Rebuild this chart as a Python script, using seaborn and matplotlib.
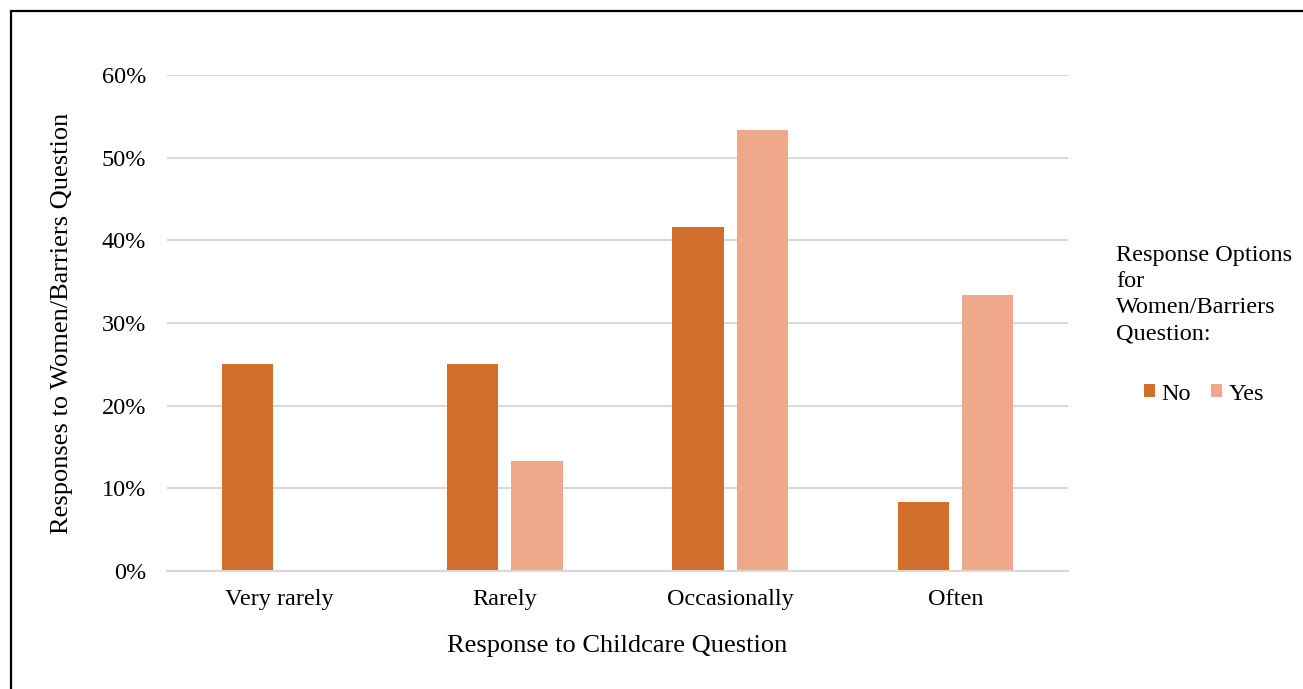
import matplotlib
matplotlib.use("Agg")
import matplotlib.pyplot as plt
import matplotlib.patches as mpatches
from matplotlib.ticker import PercentFormatter
import pandas as pd
import seaborn as sns

categories = ["Very rarely", "Rarely", "Occasionally", "Often"]
series_names = ["No", "Yes"]
no_values = [25.0, 25.0, 41.67, 8.33]
yes_values = [0.0, 13.33, 53.33, 33.33]
y_ticks = [0, 10, 20, 30, 40, 50, 60]
colors = {"No": "#D26E2B", "Yes": "#F0A88A"}

df = pd.DataFrame({
    "category": categories * 2,
    "answer": ["No"] * len(categories) + ["Yes"] * len(categories),
    "value": no_values + yes_values,
})

sns.set_theme(style="white")
plt.rcParams["font.family"] = ["Liberation Serif", "DejaVu Serif"]
plt.rcParams["text.color"] = "black"
plt.rcParams["axes.labelcolor"] = "black"

W, H = 1303, 689
fig = plt.figure(figsize=(W / 100, H / 100), dpi=100)
ax = fig.add_axes([167 / W, 1 - 571 / H, (1068 - 167) / W, (571 - 75) / H])

sns.barplot(data=df, x="category", y="value", hue="answer",
            hue_order=series_names, order=categories, palette=colors,
            width=0.57, gap=0.2, ax=ax, saturation=1, errorbar=None,
            edgecolor="none", linewidth=0)

ax.set_xlim(-0.5, 3.5)
ax.set_ylim(0, 60)
ax.set_yticks(y_ticks)
ax.yaxis.set_major_formatter(PercentFormatter(decimals=0))
ax.grid(axis="y", color="#D9D9D9", linewidth=1.5)
ax.set_axisbelow(True)
for side in ["top", "right", "left"]:
    ax.spines[side].set_visible(False)
ax.spines["bottom"].set_color("#D9D9D9")
ax.spines["bottom"].set_linewidth(1.5)
ax.tick_params(axis="both", length=0, labelsize=17.5, colors="black")
ax.tick_params(axis="y", pad=15)
ax.tick_params(axis="x", pad=13)

ax.set_xlabel("Response to Childcare Question", fontsize=19)
ax.set_ylabel("Responses to Women/Barriers Question", fontsize=19)
ax.xaxis.set_label_coords(0.5, -(646 - 571) / (571 - 75))
ax.yaxis.set_label_coords(-(167 - 62) / (1068 - 167), 0.5)
ax.xaxis.label.set_va("center")
ax.yaxis.label.set_va("center")

handles, labels = ax.get_legend_handles_labels()
leg = ax.legend(handles, labels,
                title="Response Options\nfor\nWomen/Barriers\nQuestion:",
                loc="upper left", bbox_to_anchor=(1094 / W, 1 - 223 / H),
                bbox_transform=fig.transFigure, ncol=2, frameon=False,
                fontsize=17.5, title_fontsize=17.5, handlelength=0.45,
                handleheight=0.45, handletextpad=0.25, columnspacing=0.85,
                labelspacing=1.6, alignment="center")
leg.get_title().set_multialignment("left")
leg.get_title().set_linespacing(1.33)

# outer frame line along the top and left of the canvas
fig.add_artist(mpatches.Rectangle((11 / W, -0.1), 1.2, 1 - 11 / H + 0.1,
                                  transform=fig.transFigure, fill=False,
                                  edgecolor="black", linewidth=1.6))

fig.savefig("out.png", dpi=100, facecolor="white")
